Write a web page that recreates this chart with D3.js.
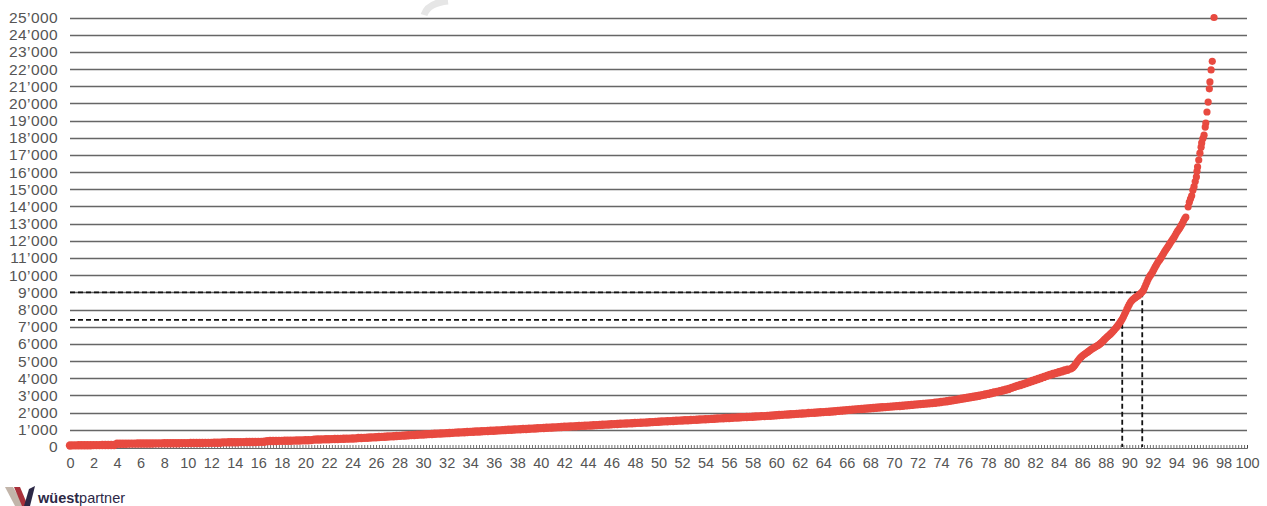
<!DOCTYPE html>
<html>
<head>
<meta charset="utf-8">
<script src="https://cdn.jsdelivr.net/npm/d3@7"></script>
<style>
  body { margin: 0; background: #fff; }
  svg text { font-family: "Liberation Sans", Arial, sans-serif; fill: #555; }
</style>
</head>
<body>
<svg id="chart" width="1267" height="506"></svg>
<script>
// DATA

// y axis ticks / gridlines (0 .. 25'000)
var yTickValues = [0,1000,2000,3000,4000,5000,6000,7000,8000,9000,10000,11000,12000,
  13000,14000,15000,16000,17000,18000,19000,20000,21000,22000,23000,24000,25000];

// x axis labels (every 2 percent)
var xLabelValues = d3.range(0, 101, 2);

// body of the curve: one value every 0.25 percent, from 0 to 84.75
var bodyStep = 0.25;
var bodyValues = [
  90,95,95,100,100,100,105,105,110,110,110,115,115,115,120,120,185,190,190,190,          // 0 - 4.75
  195,195,195,200,200,200,205,205,205,210,210,210,215,215,215,220,220,220,225,225,       // 5 - 9.75
  225,230,230,230,235,235,240,240,240,245,245,250,270,270,275,275,280,280,285,285,       // 10 - 14.75
  290,290,295,295,300,300,305,340,345,345,350,355,355,360,365,365,370,375,380,385,       // 15 - 19.75
  390,395,400,430,435,440,445,450,455,460,465,470,475,480,485,490,495,500,520,525,       // 20 - 24.75
  530,540,550,560,570,580,590,600,610,620,630,640,650,660,670,680,690,700,710,720,       // 25 - 29.75
  730,740,750,760,770,780,785,795,805,815,825,835,845,850,860,870,880,890,900,905,       // 30 - 34.75
  915,925,935,945,950,960,970,980,990,1000,1005,1015,1025,1035,1045,1050,1060,1070,1080,1090,
  1100,1110,1120,1125,1135,1145,1155,1165,1175,1180,1190,1200,1210,1220,1230,1235,1245,1255,1265,1275,
  1285,1295,1305,1310,1320,1330,1340,1350,1360,1365,1375,1385,1395,1405,1410,1420,1430,1440,1450,1460,
  1470,1480,1490,1500,1505,1515,1525,1535,1545,1555,1560,1570,1580,1590,1600,1610,1615,1625,1635,1645,
  1655,1665,1675,1685,1690,1700,1710,1720,1730,1740,1745,1755,1765,1775,1785,1795,1800,1810,1820,1830,
  1850,1860,1870,1885,1895,1905,1915,1930,1940,1950,1960,1975,1985,1995,2005,2020,2030,2045,2055,2070,
  2085,2100,2115,2130,2145,2160,2175,2190,2205,2215,2230,2245,2255,2270,2285,2295,2310,2320,2335,2350,
  2365,2380,2390,2405,2420,2435,2450,2465,2480,2495,2510,2525,2540,2555,2575,2595,2615,2640,2665,2690,
  2715,2745,2775,2805,2835,2865,2895,2925,2955,2985,3020,3055,3090,3130,3170,3210,3250,3290,3335,3380,
  3440,3500,3560,3610,3660,3720,3780,3840,3900,3960,4020,4080,4140,4200,4250,4300,4350,4400,4450,4500
];

// steep tail of the curve: percentiles and values read individually
var tailPct = [
  85.0,85.1,85.2,85.3,85.4,85.5,85.6,85.7,85.8,85.9,86.0,86.1,86.2,86.3,86.4,86.5,86.6,86.7,86.8,86.9,
  87.0,87.1,87.2,87.3,87.4,87.5,87.6,87.7,87.8,87.9,88.0,88.1,88.2,88.3,88.4,88.5,88.6,88.7,88.8,88.9,
  89.0,89.1,89.2,89.3,89.4,89.5,89.6,89.7,89.8,89.9,90.0,90.1,90.2,90.3,90.4,90.5,90.6,90.7,90.8,90.9,
  91.0,91.1,91.2,91.3,91.4,91.5,91.6,91.7,91.8,91.9,92.0,92.1,92.2,92.3,92.4,92.5,92.6,92.7,92.8,92.9,
  93.0,93.1,93.2,93.3,93.4,93.5,93.6,93.7,93.8,93.9,94.0,94.1,94.2,94.3,94.4,94.5,94.6,94.7,94.8,
  95.0,95.1,95.2,95.3,95.4,95.5,95.6,95.7,95.75,95.8,95.9,96.0,96.1,96.15,96.25,96.35,96.45,96.5,
  96.6,96.7,96.8,96.85,96.95,97.05,97.2
];
var tailValues = [
  4540,4580,4630,4700,4790,4890,4990,5080,5160,5230,5290,5350,5400,5450,5500,5550,5600,5650,5700,5740,
  5780,5820,5860,5900,5950,6000,6060,6120,6190,6260,6330,6400,6460,6520,6580,6650,6720,6800,6880,6960,
  7050,7140,7240,7340,7450,7580,7720,7870,8020,8170,8300,8420,8510,8580,8640,8690,8740,8790,8840,8900,
  8960,9030,9130,9280,9440,9600,9760,9900,10000,10100,10220,10350,10480,10600,10720,10830,10920,11020,11140,11260,
  11380,11480,11580,11680,11790,11900,12000,12100,12200,12320,12450,12560,12660,12760,12880,13000,13150,13280,13380,
  13980,14250,14450,14620,14950,15150,15450,15720,16050,16300,16700,17100,17450,17700,17950,18150,18620,18860,
  19500,20080,20850,21250,21950,22450,25000
];

// dashed reference lines
var refPct = [89.4, 91.1];
var refValues = [7400, 9000];

// CHART

var svg = d3.select('#chart');

var x = d3.scaleLinear().domain([0, 100]).range([70, 1247]);
var y = d3.scaleLinear().domain([0, 25000]).range([447, 17.5]);

var swiss = d3.formatLocale({ decimal: '.', thousands: '\u2019', grouping: [3], currency: ['', ''] });
var fmt = swiss.format(',');

// gridlines
svg.append('g')
  .selectAll('line')
  .data(yTickValues.filter(function(d) { return d > 0; }))
  .join('line')
    .attr('x1', x(0))
    .attr('x2', x(100))
    .attr('y1', function(d) { return Math.round(y(d)) + 0.5; })
    .attr('y2', function(d) { return Math.round(y(d)) + 0.5; })
    .attr('stroke', '#666')
    .attr('stroke-width', 1.6);

// y labels
var yAxis = d3.axisLeft(y)
  .tickValues(yTickValues)
  .tickSize(0)
  .tickPadding(12)
  .tickFormat(fmt);
var gy = svg.append('g')
  .attr('transform', 'translate(' + x(0) + ',0)')
  .call(yAxis);
gy.select('.domain').remove();
gy.selectAll('text')
  .attr('font-size', 15.5)
  .attr('fill', '#555')
  .style('letter-spacing', '0.4px');

// x minor ticks and baseline
var xMinor = d3.axisBottom(x)
  .tickValues(d3.range(0, 100.001, 0.25))
  .tickSize(-3)
  .tickFormat('');
var gxm = svg.append('g')
  .attr('transform', 'translate(0,' + (y(0) + 1) + ')')
  .call(xMinor);
gxm.select('.domain').attr('stroke', '#444').attr('stroke-width', 0.8);
gxm.selectAll('.tick line').attr('stroke', '#333').attr('stroke-width', 0.7);

// x labels
var xAxis = d3.axisBottom(x)
  .tickValues(xLabelValues)
  .tickSize(0)
  .tickPadding(11)
  .tickFormat(d3.format('d'));
var gx = svg.append('g')
  .attr('transform', 'translate(0,' + y(0) + ')')
  .call(xAxis);
gx.select('.domain').remove();
gx.selectAll('text')
  .attr('font-size', 14.5)
  .attr('fill', '#555');

// dashed reference lines
var refs = svg.append('g')
  .attr('stroke', '#111')
  .attr('stroke-width', 1.8)
  .attr('stroke-dasharray', '5,3')
  .attr('fill', 'none');
refPct.forEach(function(p, i) {
  refs.append('path')
    .attr('d', 'M' + x(0) + ',' + y(refValues[i]) +
               'H' + x(p) + 'V' + y(0));
});

// scatter points: body (dense band) and tail (single dots)
var bodyPoints = bodyValues.map(function(v, i) { return { p: i * bodyStep, v: v }; });
var tailPoints = tailPct.map(function(p, i) { return { p: p, v: tailValues[i] }; });

var dots = svg.append('g').attr('fill', '#e84a40');
dots.selectAll('circle.body')
  .data(bodyPoints)
  .join('circle')
    .attr('class', 'body')
    .attr('cx', function(d) { return x(d.p); })
    .attr('cy', function(d) { return y(d.v); })
    .attr('r', 4.2);
dots.selectAll('circle.tail')
  .data(tailPoints)
  .join('circle')
    .attr('class', 'tail')
    .attr('cx', function(d) { return x(d.p); })
    .attr('cy', function(d) { return y(d.v); })
    .attr('r', 3.6);

// faint watermark fragment at the top
svg.append('path')
  .attr('d', 'M424,15 Q428,3 448,1')
  .attr('stroke', '#e6e6e6')
  .attr('stroke-width', 7)
  .attr('fill', 'none');

// logo
var logo = svg.append('g');
logo.append('polygon').attr('points', '5,487 13,487 24,506 15,506').attr('fill', '#c2b5aa');
logo.append('polygon').attr('points', '14,487 20,487 28,506 22,506').attr('fill', '#a8303a');
logo.append('polygon').attr('points', '24,506 30,506 35,486 29,489').attr('fill', '#2c2846');
var logoText = logo.append('text')
  .attr('x', 38)
  .attr('y', 503)
  .attr('font-size', 14.5)
  .style('fill', '#2c2846');
logoText.append('tspan').attr('font-weight', 'bold').text('wüest');
logoText.append('tspan').text('partner');
</script>
</body>
</html>
